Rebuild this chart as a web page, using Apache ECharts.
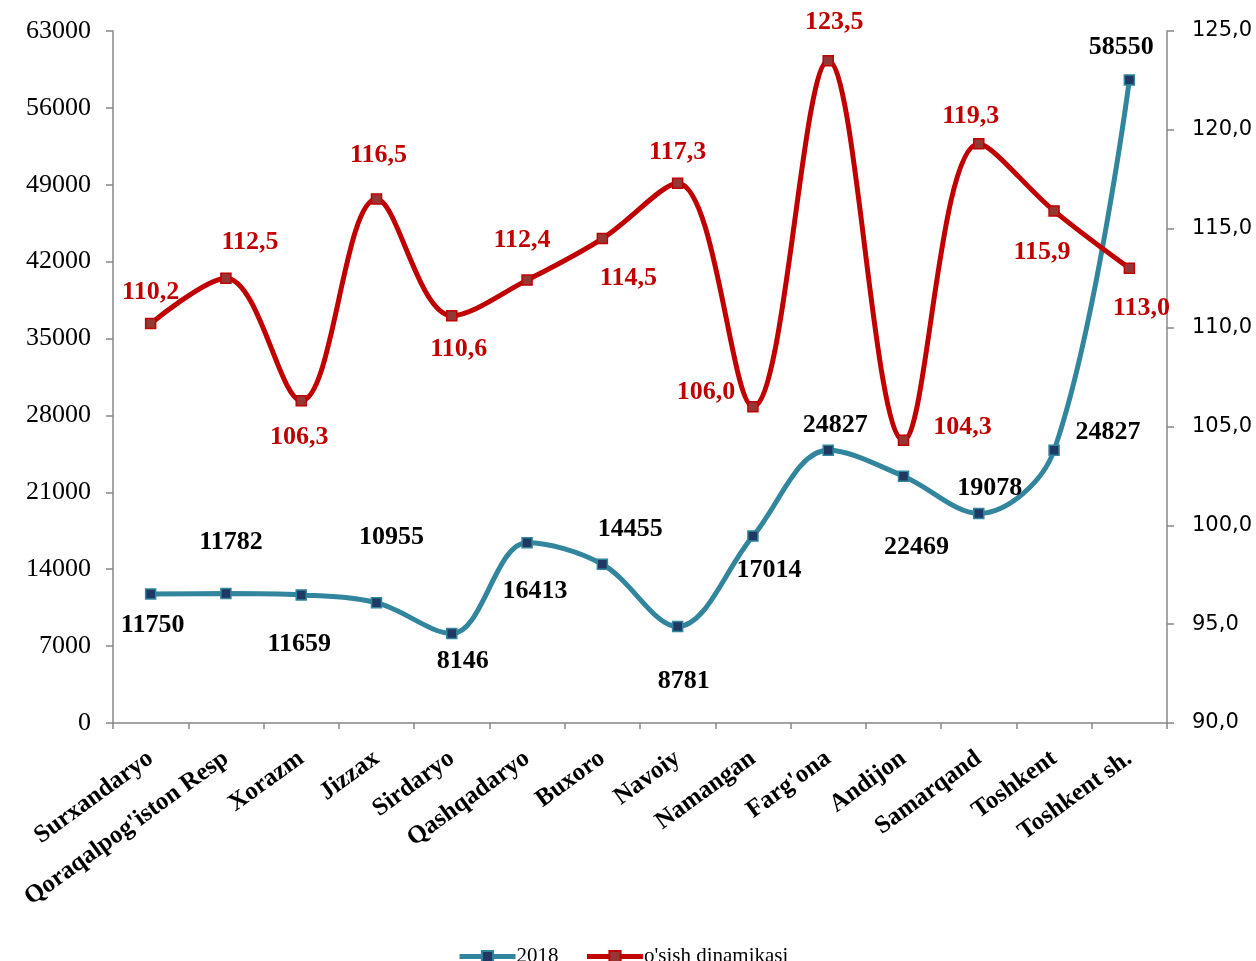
<!DOCTYPE html>
<html>
<head>
<meta charset="utf-8">
<script src="https://cdn.jsdelivr.net/npm/echarts@6/dist/echarts.min.js"></script>
<style>
html,body{margin:0;padding:0;background:#fff;}
#chart{width:1256px;height:961px;}
</style>
</head>
<body>
<div id="chart"></div>
<script>
const categories = ["Surxandaryo","Qoraqalpog'iston Resp","Xorazm","Jizzax","Sirdaryo","Qashqadaryo","Buxoro","Navoiy","Namangan","Farg'ona","Andijon","Samarqand","Toshkent","Toshkent sh."];
const values2018 = [11750, 11782, 11659, 10955, 8146, 16413, 14455, 8781, 17014, 24827, 22469, 19078, 24827, 58550];
const growth = [110.2, 112.5, 106.3, 116.5, 110.6, 112.4, 114.5, 117.3, 106.0, 123.5, 104.3, 119.3, 115.9, 113.0];
const seriesNames = ["2018", "o'sish dinamikasi"];
const leftTicks = {min: 0, max: 63000, interval: 7000};
const rightTicks = {min: 90, max: 125, interval: 5};

// label placement (layout only)
const tealLabelOffsets = [[2,31],[5,-51],[-2,49],[15,-65],[11,28],[8,49],[28,-35],[6,55],[16,34],[7,-25],[13,71],[11,-25],[54,-18],[-8,-33]];
const redLabelOffsets = [[0,-31],[24,-36],[-2,37],[2,-44],[7,34],[-5,-40],[26,40],[0,-31],[-47,-14],[6,-38],[59,-13],[-8,-27],[-12,41],[12,40]];

const serif = "'Liberation Serif','Times New Roman',serif";
const comma = v => v.toFixed(1).replace('.', ',');

const chart = echarts.init(document.getElementById('chart'), null, {renderer: 'canvas'});
const axisGray = '#868686';

const tealData = values2018.map((v, i) => ({
  value: v,
  label: {offset: tealLabelOffsets[i]}
}));
const redData = growth.map((v, i) => ({
  value: v,
  label: {offset: redLabelOffsets[i]}
}));

chart.setOption({
  animation: false,
  backgroundColor: '#fff',
  grid: {left: 113, right: 89, top: 31, bottom: 238, containLabel: false},
  legend: {
    top: 941,
    left: 452,
    itemWidth: 56,
    itemHeight: 14,
    itemGap: 26,
    lineStyle: {width: 5},
    textStyle: {fontFamily: serif, fontSize: 21, color: '#000', padding: [0, 0, 0, -4]},
    data: seriesNames
  },
  xAxis: {
    type: 'category',
    data: categories,
    boundaryGap: true,
    axisLine: {lineStyle: {color: axisGray, width: 1.5}},
    axisTick: {show: true, length: 6, lineStyle: {color: axisGray, width: 1.5}},
    axisLabel: {
      interval: 0,
      rotate: 36,
      margin: 33,
      fontFamily: serif,
      fontWeight: 'bold',
      fontSize: 25,
      color: '#000'
    },
    splitLine: {show: false}
  },
  yAxis: [
    {
      type: 'value',
      min: leftTicks.min, max: leftTicks.max, interval: leftTicks.interval,
      axisLine: {show: true, lineStyle: {color: axisGray, width: 1.5}},
      axisTick: {show: true, length: 7, lineStyle: {color: axisGray, width: 1.5}},
      axisLabel: {fontFamily: serif, fontSize: 26, color: '#000', margin: 22, formatter: v => String(v)},
      splitLine: {show: false}
    },
    {
      type: 'value',
      position: 'right',
      min: rightTicks.min, max: rightTicks.max, interval: rightTicks.interval,
      axisLine: {show: true, lineStyle: {color: axisGray, width: 1.5}},
      axisTick: {show: true, length: 7, lineStyle: {color: axisGray, width: 1.5}},
      axisLabel: {fontFamily: "'DejaVu Sans',sans-serif", fontSize: 21, color: '#000', margin: 25, formatter: comma},
      splitLine: {show: false}
    }
  ],
  series: [
    {
      name: seriesNames[0],
      type: 'line',
      yAxisIndex: 0,
      data: tealData,
      smooth: 0.35,
      symbol: 'rect',
      symbolSize: 10,
      lineStyle: {color: '#31859C', width: 5},
      itemStyle: {color: '#1F3864', borderColor: '#31859C', borderWidth: 1.5},
      label: {
        show: true,
        position: 'inside',
        align: 'center',
        verticalAlign: 'middle',
        fontFamily: serif,
        fontWeight: 'bold',
        fontSize: 26,
        color: '#000'
      },
      z: 2
    },
    {
      name: seriesNames[1],
      type: 'line',
      yAxisIndex: 1,
      data: redData,
      smooth: 0.35,
      symbol: 'rect',
      symbolSize: 10,
      lineStyle: {color: '#C00000', width: 5},
      itemStyle: {color: '#953735', borderColor: '#C00000', borderWidth: 1.5},
      label: {
        show: true,
        position: 'inside',
        align: 'center',
        verticalAlign: 'middle',
        fontFamily: serif,
        fontWeight: 'bold',
        fontSize: 26,
        color: '#C00000',
        formatter: p => comma(p.value)
      },
      z: 3
    }
  ]
});
</script>
</body>
</html>
